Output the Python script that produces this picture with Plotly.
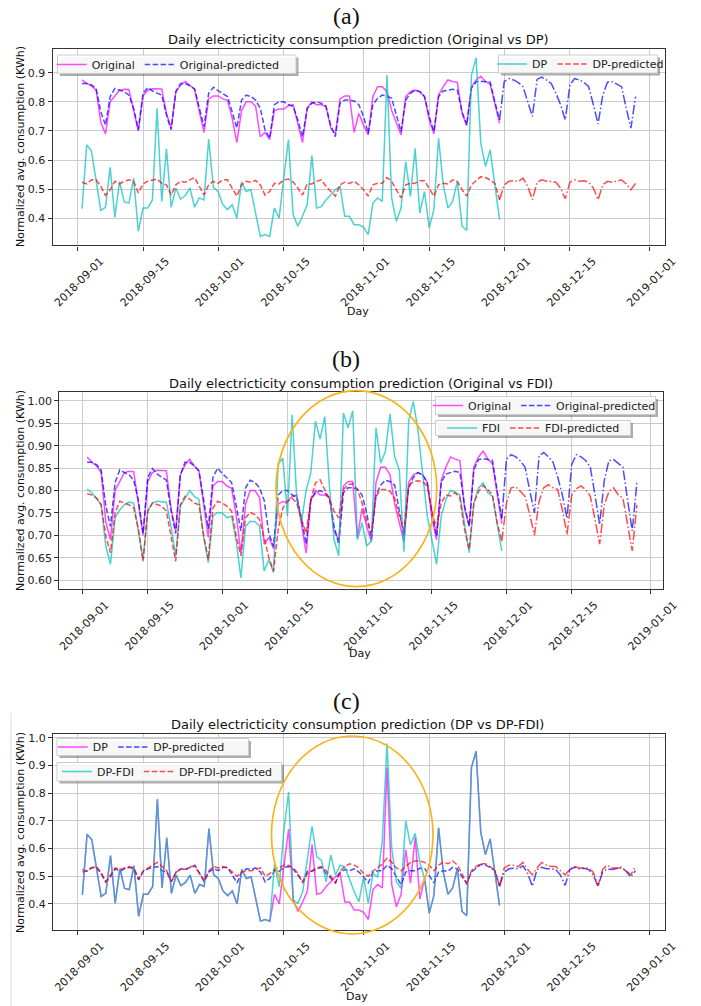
import pandas as pd
import plotly.graph_objects as go

# ---------------- data ----------------
obs_dates = pd.date_range("2018-09-02", periods=90, freq="D")
pred_dates = pd.date_range("2018-09-02", periods=119, freq="D")
N_OBS = 90

tick_dates = ["2018-09-01", "2018-09-15", "2018-10-01", "2018-10-15", "2018-11-01",
              "2018-11-15", "2018-12-01", "2018-12-15", "2019-01-01"]
tick_labels = ["2018-09-01", "2018-09-15", "2018-10-01", "2018-10-15", "2018-11-01",
               "2018-11-15", "2018-12-01", "2018-12-15", "2019-01-01"]

original = [
    0.875, 0.863, 0.855, 0.84, 0.73, 0.69, 0.80, 0.82, 0.84, 0.843,
    0.842, 0.77, 0.70, 0.82, 0.84, 0.845, 0.845, 0.844, 0.76, 0.71,
    0.835, 0.857, 0.87, 0.855, 0.843, 0.766, 0.695, 0.81, 0.82, 0.82,
    0.81, 0.805, 0.745, 0.66, 0.77, 0.80, 0.80, 0.785, 0.68, 0.695,
    0.67, 0.77, 0.775, 0.775, 0.787, 0.79, 0.72, 0.66, 0.778, 0.80,
    0.79, 0.79, 0.785, 0.71, 0.69, 0.81, 0.82, 0.82, 0.695, 0.76,
    0.72, 0.686, 0.818, 0.852, 0.852, 0.835, 0.77, 0.727, 0.686, 0.818,
    0.835, 0.84, 0.835, 0.818, 0.738, 0.69, 0.823, 0.852, 0.875, 0.87,
    0.867, 0.76, 0.72, 0.852, 0.875, 0.888, 0.87, 0.86, 0.79, 0.726]

original_pred = [
    0.863, 0.863, 0.858, 0.846, 0.766, 0.72, 0.818, 0.846, 0.84, 0.835,
    0.823, 0.778, 0.704, 0.829, 0.849, 0.837, 0.83, 0.823, 0.755, 0.704,
    0.835, 0.863, 0.863, 0.855, 0.844, 0.784, 0.715, 0.829, 0.85, 0.838,
    0.829, 0.818, 0.766, 0.71, 0.806, 0.823, 0.818, 0.806, 0.778, 0.704,
    0.675, 0.79, 0.80, 0.80, 0.79, 0.784, 0.738, 0.68, 0.778, 0.795,
    0.80, 0.795, 0.784, 0.72, 0.68, 0.795, 0.806, 0.806, 0.803, 0.79,
    0.75, 0.692, 0.79, 0.812, 0.823, 0.82, 0.812, 0.755, 0.698, 0.806,
    0.829, 0.84, 0.835, 0.818, 0.75, 0.698, 0.818, 0.837, 0.84, 0.843,
    0.84, 0.766, 0.72, 0.846, 0.869, 0.871, 0.869, 0.867, 0.80, 0.738,
    0.87, 0.88, 0.875, 0.866, 0.852, 0.80, 0.75, 0.877, 0.885, 0.875,
    0.863, 0.83, 0.79, 0.738, 0.858, 0.88, 0.875, 0.867, 0.852, 0.79,
    0.724, 0.823, 0.867, 0.869, 0.86, 0.852, 0.778, 0.71, 0.818]

dp = [
    0.433, 0.652, 0.632, 0.527, 0.427, 0.438, 0.575, 0.403, 0.527, 0.456,
    0.452, 0.538, 0.355, 0.435, 0.435, 0.463, 0.778, 0.458, 0.639, 0.438,
    0.504, 0.466, 0.478, 0.504, 0.438, 0.47, 0.463, 0.672, 0.506, 0.492,
    0.447, 0.43, 0.447, 0.40, 0.525, 0.492, 0.498, 0.418, 0.338, 0.344,
    0.338, 0.435, 0.40, 0.538, 0.67, 0.413, 0.373, 0.407, 0.447, 0.615,
    0.435, 0.44, 0.463, 0.48, 0.498, 0.51, 0.407, 0.407, 0.378, 0.378,
    0.37, 0.344, 0.452, 0.47, 0.458, 0.892, 0.47, 0.39, 0.435, 0.595,
    0.475, 0.64, 0.418, 0.492, 0.367, 0.43, 0.675, 0.515, 0.435, 0.458,
    0.527, 0.373, 0.358, 0.892, 0.951, 0.658, 0.578, 0.635, 0.51, 0.395]

dp_pred = [
    0.524, 0.518, 0.532, 0.532, 0.51, 0.479, 0.498, 0.527, 0.518, 0.527,
    0.532, 0.527, 0.487, 0.518, 0.527, 0.532, 0.535, 0.52, 0.515, 0.48,
    0.515, 0.527, 0.524, 0.532, 0.54, 0.51, 0.48, 0.515, 0.527, 0.52,
    0.532, 0.532, 0.504, 0.476, 0.515, 0.527, 0.524, 0.53, 0.515, 0.48,
    0.492, 0.52, 0.518, 0.532, 0.535, 0.525, 0.504, 0.48, 0.518, 0.518,
    0.527, 0.532, 0.51, 0.492, 0.476, 0.515, 0.524, 0.52, 0.527, 0.515,
    0.498, 0.476, 0.515, 0.52, 0.52, 0.54, 0.527, 0.498, 0.47, 0.515,
    0.52, 0.52, 0.529, 0.529, 0.504, 0.476, 0.515, 0.52, 0.518, 0.532,
    0.527, 0.498, 0.476, 0.515, 0.529, 0.543, 0.54, 0.532, 0.52, 0.464,
    0.515, 0.527, 0.529, 0.527, 0.538, 0.51, 0.464, 0.524, 0.532, 0.527,
    0.527, 0.524, 0.504, 0.467, 0.524, 0.532, 0.527, 0.529, 0.524, 0.504,
    0.464, 0.515, 0.527, 0.524, 0.529, 0.532, 0.518, 0.498, 0.52]

fdi = [
    0.803, 0.795, 0.783, 0.768, 0.676, 0.635, 0.739, 0.757, 0.768, 0.774,
    0.772, 0.713, 0.646, 0.754, 0.772, 0.776, 0.775, 0.774, 0.72, 0.654,
    0.765, 0.783, 0.80, 0.787, 0.78, 0.698, 0.639, 0.743, 0.751, 0.75,
    0.739, 0.743, 0.687, 0.605, 0.72, 0.731, 0.731, 0.72, 0.62, 0.646,
    0.617, 0.86, 0.872, 0.743, 0.969, 0.78, 0.73, 0.80, 0.84, 0.955,
    0.915, 0.965, 0.81, 0.69, 0.654, 0.973, 0.94, 0.978, 0.69, 0.728,
    0.676, 0.687, 0.94, 0.861, 0.887, 0.971, 0.876, 0.846, 0.663, 0.954,
    0.999, 0.935, 0.84, 0.743, 0.69, 0.635, 0.743, 0.78, 0.80, 0.796,
    0.79, 0.728, 0.661, 0.772, 0.806, 0.817, 0.795, 0.787, 0.724, 0.665]

fdi_pred = [
    0.793, 0.79, 0.783, 0.768, 0.698, 0.661, 0.75, 0.776, 0.772, 0.768,
    0.761, 0.713, 0.642, 0.754, 0.772, 0.768, 0.765, 0.754, 0.698, 0.642,
    0.768, 0.787, 0.781, 0.772, 0.768, 0.698, 0.646, 0.761, 0.776, 0.772,
    0.765, 0.754, 0.698, 0.654, 0.739, 0.751, 0.746, 0.735, 0.694, 0.65,
    0.62, 0.713, 0.761, 0.776, 0.783, 0.772, 0.735, 0.705, 0.78, 0.817,
    0.824, 0.802, 0.78, 0.754, 0.739, 0.802, 0.813, 0.815, 0.802, 0.772,
    0.731, 0.705, 0.787, 0.802, 0.802, 0.798, 0.783, 0.743, 0.713, 0.81,
    0.82, 0.822, 0.82, 0.81, 0.757, 0.713, 0.772, 0.79, 0.788, 0.795,
    0.783, 0.713, 0.668, 0.772, 0.798, 0.811, 0.802, 0.79, 0.728, 0.687,
    0.772, 0.806, 0.808, 0.798, 0.787, 0.746, 0.70, 0.776, 0.806, 0.813,
    0.806, 0.802, 0.757, 0.702, 0.79, 0.804, 0.81, 0.802, 0.787, 0.735,
    0.68, 0.768, 0.798, 0.806, 0.79, 0.783, 0.728, 0.665, 0.768]

dp_fdi = [
    0.433, 0.652, 0.632, 0.527, 0.427, 0.438, 0.575, 0.403, 0.527, 0.456,
    0.452, 0.538, 0.355, 0.435, 0.435, 0.463, 0.778, 0.458, 0.639, 0.438,
    0.504, 0.466, 0.478, 0.504, 0.438, 0.47, 0.463, 0.672, 0.506, 0.492,
    0.447, 0.43, 0.447, 0.40, 0.525, 0.492, 0.498, 0.418, 0.338, 0.344,
    0.338, 0.545, 0.462, 0.667, 0.805, 0.414, 0.402, 0.444, 0.564, 0.68,
    0.57, 0.558, 0.48, 0.576, 0.504, 0.54, 0.534, 0.486, 0.444, 0.408,
    0.498, 0.402, 0.51, 0.498, 0.63, 0.98, 0.60, 0.48, 0.456, 0.70,
    0.613, 0.655, 0.55, 0.492, 0.367, 0.43, 0.675, 0.515, 0.435, 0.458,
    0.527, 0.373, 0.358, 0.892, 0.951, 0.658, 0.578, 0.635, 0.51, 0.395]

dp_fdi_pred = [
    0.515, 0.52, 0.53, 0.535, 0.512, 0.48, 0.505, 0.53, 0.525, 0.53,
    0.535, 0.53, 0.49, 0.52, 0.53, 0.54, 0.55, 0.535, 0.52, 0.48,
    0.515, 0.525, 0.525, 0.535, 0.535, 0.51, 0.485, 0.52, 0.535, 0.53,
    0.535, 0.53, 0.515, 0.50, 0.515, 0.52, 0.52, 0.525, 0.53, 0.50,
    0.51, 0.525, 0.53, 0.54, 0.54, 0.53, 0.51, 0.475, 0.51, 0.52,
    0.53, 0.535, 0.52, 0.50, 0.475, 0.52, 0.535, 0.545, 0.54, 0.53,
    0.51, 0.50, 0.52, 0.53, 0.545, 0.565, 0.55, 0.53, 0.52, 0.535,
    0.55, 0.555, 0.555, 0.55, 0.54, 0.52, 0.54, 0.55, 0.545, 0.555,
    0.54, 0.51, 0.47, 0.52, 0.535, 0.545, 0.545, 0.535, 0.52, 0.465,
    0.53, 0.54, 0.54, 0.535, 0.55, 0.525, 0.505, 0.53, 0.55, 0.54,
    0.535, 0.535, 0.52, 0.505, 0.525, 0.535, 0.53, 0.53, 0.53, 0.515,
    0.465, 0.525, 0.54, 0.53, 0.53, 0.53, 0.52, 0.505, 0.535]

# ---------------- styling ----------------
W, H = 701, 1006
FONT = "DejaVu Sans"
MAGENTA, BLUE, TEAL, RED = "#ff00ff", "#0000ff", "#00bfbf", "#ff0000"
DASH = "5.5px,2.4px"
DASHDOT = "9.6px,2.4px,1.5px,2.4px"
ORANGE = "#f9b31a"


def px(x):
    return x / W


def py(y):
    return 1 - y / H


def line(x, y, color, dash, name, ax, legend, show=True):
    return go.Scatter(x=list(x), y=y, mode="lines", name=name,
                      line=dict(color=color, width=1.5, dash=dash),
                      opacity=0.7, xaxis="x" + ax, yaxis="y" + ax,
                      legend=legend, showlegend=show, hoverinfo="skip")


fig = go.Figure()
od, pdt = obs_dates, pred_dates
k = N_OBS
# (a)
fig.add_trace(line(od, original, MAGENTA, "solid", "Original", "", "legend"))
fig.add_trace(line(pdt[:k], original_pred[:k], BLUE, DASH, "Original-predicted", "", "legend"))
fig.add_trace(line(pdt[k - 1:], original_pred[k - 1:], BLUE, DASHDOT, "Original-forecast", "", "legend", False))
fig.add_trace(line(od, dp, TEAL, "solid", "DP", "", "legend2"))
fig.add_trace(line(pdt[:k], dp_pred[:k], RED, DASH, "DP-predicted", "", "legend2"))
fig.add_trace(line(pdt[k - 1:], dp_pred[k - 1:], RED, DASHDOT, "DP-forecast", "", "legend2", False))
# (b)
fig.add_trace(line(od, original, MAGENTA, "solid", "Original", "2", "legend3"))
fig.add_trace(line(pdt[:k], original_pred[:k], BLUE, DASH, "Original-predicted", "2", "legend3"))
fig.add_trace(line(pdt[k - 1:], original_pred[k - 1:], BLUE, DASHDOT, "Original-forecast", "2", "legend3", False))
fig.add_trace(line(od, fdi, TEAL, "solid", "FDI", "2", "legend4"))
fig.add_trace(line(pdt[:k], fdi_pred[:k], RED, DASH, "FDI-predicted", "2", "legend4"))
fig.add_trace(line(pdt[k - 1:], fdi_pred[k - 1:], RED, DASHDOT, "FDI-forecast", "2", "legend4", False))
# (c)
fig.add_trace(line(od, dp, MAGENTA, "solid", "DP", "3", "legend5"))
fig.add_trace(line(pdt[:k], dp_pred[:k], BLUE, DASH, "DP-predicted", "3", "legend5"))
fig.add_trace(line(pdt[k - 1:], dp_pred[k - 1:], BLUE, DASHDOT, "DP-forecast", "3", "legend5", False))
fig.add_trace(line(od, dp_fdi, TEAL, "solid", "DP-FDI", "3", "legend6"))
fig.add_trace(line(pdt[:k], dp_fdi_pred[:k], RED, DASH, "DP-FDI-predicted", "3", "legend6"))
fig.add_trace(line(pdt[k - 1:], dp_fdi_pred[k - 1:], RED, DASHDOT, "DP-FDI-forecast", "3", "legend6", False))


def xax(x0, x1, rng, anchor):
    return dict(domain=[px(x0), px(x1)], range=rng, type="date", anchor=anchor,
                tickvals=tick_dates, ticktext=tick_labels, tickangle=-45, ticklabelshift=23,
                showline=True, mirror=True, linecolor="#333", linewidth=1.2,
                ticks="outside", ticklen=4, tickcolor="#333",
                showgrid=True, gridcolor="#cccccc", gridwidth=1.2, zeroline=False,
                tickfont=dict(family=FONT, size=11, color="#222"), automargin=False)


def yax(y0, y1, rng, dtick, fmt, anchor):
    return dict(domain=[py(y1), py(y0)], range=rng, anchor=anchor, dtick=dtick, tickformat=fmt,
                showline=True, mirror=True, linecolor="#333", linewidth=1.2,
                ticks="outside", ticklen=4, tickcolor="#333",
                showgrid=True, gridcolor="#cccccc", gridwidth=1.2, zeroline=False,
                tickfont=dict(family=FONT, size=11, color="#222"), automargin=False)


RANGE_AC = ["2018-08-26 17:31", "2019-01-04 04:48"]
RANGE_B = ["2018-08-27 00:29", "2019-01-03 14:24"]

layout = dict(
    width=W, height=H, margin=dict(l=0, r=0, t=0, b=0),
    paper_bgcolor="white", plot_bgcolor="white", hovermode=False,
    font=dict(family=FONT, size=11, color="#222"),
    xaxis=xax(52.6, 664.7, RANGE_AC, "y"),
    yaxis=yax(48.8, 245.4, [0.307, 0.982], 0.1, ".1f", "x"),
    xaxis2=xax(59.3, 663, RANGE_B, "y2"),
    yaxis2=yax(392, 589, [0.58, 1.02], 0.05, ".2f", "x2"),
    xaxis3=xax(53, 664.5, RANGE_AC, "y3"),
    yaxis3=yax(734.4, 930, [0.306, 1.012], 0.1, ".1f", "x3"),
)


def leg(x, yc):
    return dict(x=px(x), y=py(yc), xanchor="left", yanchor="middle", orientation="h",
                bgcolor="rgba(0,0,0,0)", borderwidth=0,
                font=dict(family=FONT, size=11, color="#222"), itemclick=False)


layout["legend"] = leg(51.7, 64.5)
layout["legend2"] = leg(492, 64)
layout["legend3"] = leg(428, 405.5)
layout["legend4"] = leg(442, 428)
layout["legend5"] = leg(52.7, 747)
layout["legend6"] = leg(57, 771.5)

fig.update_layout(**layout)

shapes = []


def frame(x0, y0, x1, y1):
    shapes.append(dict(type="rect", xref="paper", yref="paper", layer="above",
                       x0=px(x0 + 2.5), x1=px(x1 + 2.5), y0=py(y1 + 2.5), y1=py(y0 + 2.5),
                       fillcolor="rgba(70,70,70,0.45)", line=dict(width=0)))
    shapes.append(dict(type="rect", xref="paper", yref="paper", layer="above",
                       x0=px(x0), x1=px(x1), y0=py(y1), y1=py(y0),
                       fillcolor="rgba(255,255,255,0.9)", line=dict(color="#cccccc", width=1)))


frame(57.5, 55, 296, 73.5)
frame(498.5, 55, 657.5, 73)
frame(435.5, 396.5, 655.5, 414.5)
frame(435.5, 420.5, 630.5, 435.5)
frame(57, 738.5, 248.5, 755.5)
frame(57, 762.5, 281.5, 781)

# highlight ellipses
shapes.append(dict(type="circle", xref="paper", yref="paper", layer="above",
                   x0=px(276), x1=px(436.7), y0=py(586.7), y1=py(390.7),
                   line=dict(color=ORANGE, width=1.7)))
shapes.append(dict(type="circle", xref="paper", yref="paper", layer="above",
                   x0=px(271.5), x1=px(433), y0=py(934), y1=py(736),
                   line=dict(color=ORANGE, width=1.7)))
# thin border line at left of panel (c)
shapes.append(dict(type="line", xref="paper", yref="paper", x0=px(11), x1=px(11),
                   y0=py(1006), y1=py(713), line=dict(color="#d9d9d9", width=1)))
fig.update_layout(shapes=shapes)

ann = []


def text(x, y, s, size, family=FONT, angle=0):
    ann.append(dict(x=px(x), y=py(y), xref="paper", yref="paper", text=s, showarrow=False,
                    xanchor="center", yanchor="middle", textangle=angle,
                    font=dict(family=family, size=size, color="#111")))


text(346, 16, "(a)", 24, "Liberation Serif")
text(346, 359, "(b)", 24, "Liberation Serif")
text(346, 701, "(c)", 24, "Liberation Serif")
text(358, 39.5, "Daily electricticity consumption prediction (Original vs DP)", 13)
text(361, 383, "Daily electricticity consumption prediction (Original vs FDI)", 13)
text(357, 724, "Daily electricticity consumption prediction (DP vs DP-FDI)", 13)
text(20, 147, "Normalized avg. consumption (KWh)", 11, angle=-90)
text(20, 491, "Normalized avg. consumption (KWh)", 11, angle=-90)
text(20, 833, "Normalized avg. consumption (KWh)", 11, angle=-90)
text(358, 312, "Day", 11)
text(360, 653, "Day", 11)
text(357, 996, "Day", 11)
fig.update_layout(annotations=ann)

fig.write_html("out.html", config={"displayModeBar": False},
               post_script="document.body.style.margin='0';document.body.style.overflow='hidden';")
